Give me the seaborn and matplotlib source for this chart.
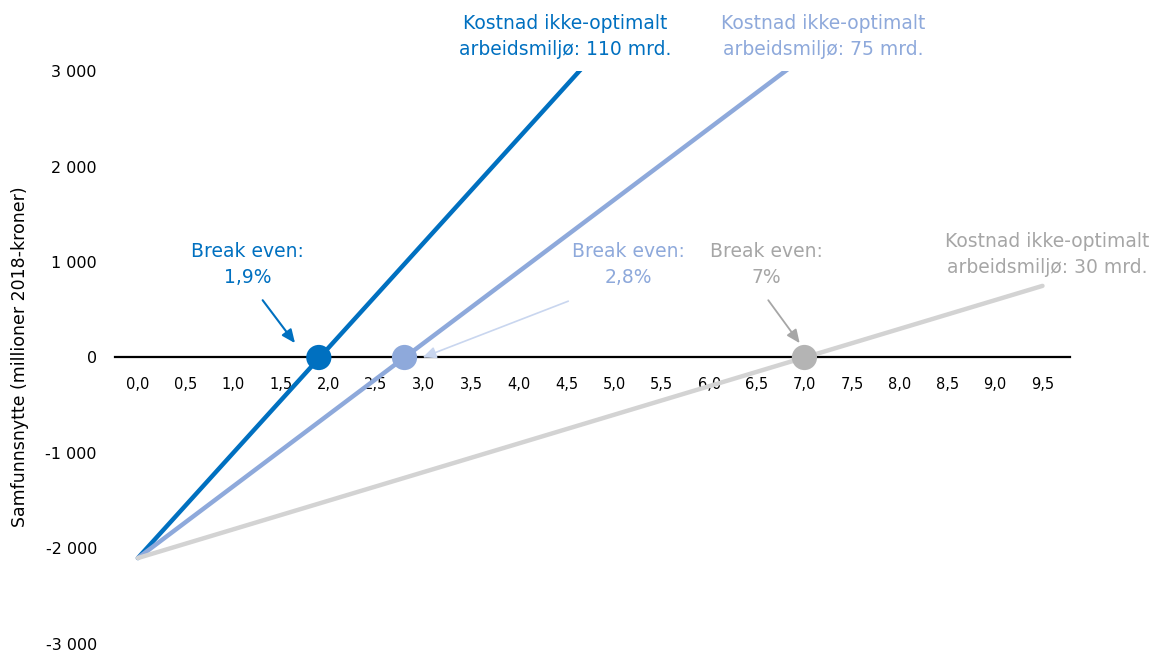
import matplotlib
matplotlib.use("Agg")
import matplotlib.pyplot as plt
import seaborn as sns
import pandas as pd

# Stillingsandel forbedret (prosent) og samfunnsnytte (millioner 2018-kroner)
pct = [0.0, 0.5, 1.0, 1.5, 2.0, 2.5, 3.0, 3.5, 4.0, 4.5,
       5.0, 5.5, 6.0, 6.5, 7.0, 7.5, 8.0, 8.5, 9.0, 9.5]
nytte_110 = [-2100, -1550, -1000, -450, 100, 650, 1200, 1750, 2300, 2850, 3400]
nytte_75 = [-2100, -1725, -1350, -975, -600, -225, 150, 525, 900, 1275,
            1650, 2025, 2400, 2775, 3150]
nytte_30 = [-2100, -1950, -1800, -1650, -1500, -1350, -1200, -1050, -900, -750,
            -600, -450, -300, -150, 0, 150, 300, 450, 600, 750]

scenarios = ["Kostnad ikke-optimalt\narbeidsmiljø: 110 mrd.",
             "Kostnad ikke-optimalt\narbeidsmiljø: 75 mrd.",
             "Kostnad ikke-optimalt\narbeidsmiljø: 30 mrd."]
break_even = [1.9, 2.8, 7.0]
break_even_labels = ["Break even:\n1,9%", "Break even:\n2,8%", "Break even:\n7%"]

x_ticks = pct
x_ticklabels = [f"{v:.1f}".replace(".", ",") for v in pct]
y_ticks = [-3000, -2000, -1000, 0, 1000, 2000, 3000]
y_ticklabels = ["-3 000", "-2 000", "-1 000", "0", "1 000", "2 000", "3 000"]

line_colors = ["#0070C0", "#8EA9DB", "#D3D3D3"]
dot_colors = ["#0070C0", "#8EA9DB", "#B4B4B4"]
text_colors = ["#0070C0", "#8EA9DB", "#A6A6A6"]

df = pd.concat([
    pd.DataFrame({"pct": pct[:len(vals)], "nytte": vals, "scenario": name})
    for name, vals in zip(scenarios, [nytte_110, nytte_75, nytte_30])
], ignore_index=True)
df_be = pd.DataFrame({"pct": break_even, "nytte": [0, 0, 0], "scenario": scenarios})

sns.set_style("white")
plt.rcParams["font.family"] = ["DejaVu Sans"]
plt.rcParams["text.color"] = "black"
plt.rcParams["xtick.color"] = "black"
plt.rcParams["ytick.color"] = "black"

fig = plt.figure(figsize=(11.54, 6.51), dpi=100)
ax = fig.add_axes([0.0997, 0.0108, 0.8276, 0.8801])

palette = dict(zip(scenarios, line_colors))
sns.lineplot(data=df, x="pct", y="nytte", hue="scenario", palette=palette,
             linewidth=3.2, legend=False, ax=ax, zorder=3,
             solid_capstyle="round")
sns.scatterplot(data=df_be, x="pct", y="nytte", hue="scenario",
                palette=dict(zip(scenarios, dot_colors)), s=330,
                edgecolor="none", legend=False, ax=ax, zorder=4)

ax.set_xlim(-0.24, 9.79)
ax.set_ylim(-3000, 3000)

# Nullinjen fungerer som x-akse
for side in ["top", "right", "left"]:
    ax.spines[side].set_visible(False)
ax.spines["bottom"].set_position(("data", 0))
ax.spines["bottom"].set_color("black")
ax.spines["bottom"].set_linewidth(1.6)
ax.spines["bottom"].set_zorder(2)

ax.set_xticks(x_ticks)
ax.set_xticklabels(x_ticklabels, fontsize=10.5, color="black")
ax.set_yticks(y_ticks)
ax.set_yticklabels(y_ticklabels, fontsize=11.5, color="black")
ax.tick_params(axis="x", length=0, pad=14)
ax.tick_params(axis="y", length=0, pad=13)
ax.set_xlabel("")
ax.set_ylabel("")
fig.text(20 / 1154, 1 - 357 / 651, "Samfunnsnytte (millioner 2018-kroner)",
         rotation=90, ha="center", va="center", fontsize=12.5, color="black")

# Scenarioetiketter
title_pos = [(4.49, 3360), (7.20, 3360), (9.55, 1080)]
for (tx, ty), txt, col in zip(title_pos, scenarios, text_colors):
    ax.text(tx, ty, txt, color=col, fontsize=13.5, ha="center", va="center",
            linespacing=1.5, clip_on=False)

# Break even-etiketter med piler
label_pos = [(1.15, 975), (5.15, 975), (6.60, 975)]
arrow_from = [(1.31, 600), (4.52, 590), (6.62, 600)]
arrow_to = [(1.65, 150), (2.99, 0), (6.95, 150)]
arrow_colors = ["#0070C0", "#C9D6EF", "#A6A6A6"]
arrow_lw = [1.5, 1.2, 1.3]
for (lx, ly), txt, col in zip(label_pos, break_even_labels, text_colors):
    ax.text(lx, ly, txt, color=col, fontsize=13.5, ha="center", va="center",
            linespacing=1.5)
for a0, a1, col, lw in zip(arrow_from, arrow_to, arrow_colors, arrow_lw):
    ax.annotate("", xy=a1, xytext=a0,
                arrowprops=dict(arrowstyle="-|>,head_length=0.8,head_width=0.35",
                                color=col, lw=lw, shrinkA=0, shrinkB=0),
                zorder=5)

fig.savefig("out.png", dpi=100)
